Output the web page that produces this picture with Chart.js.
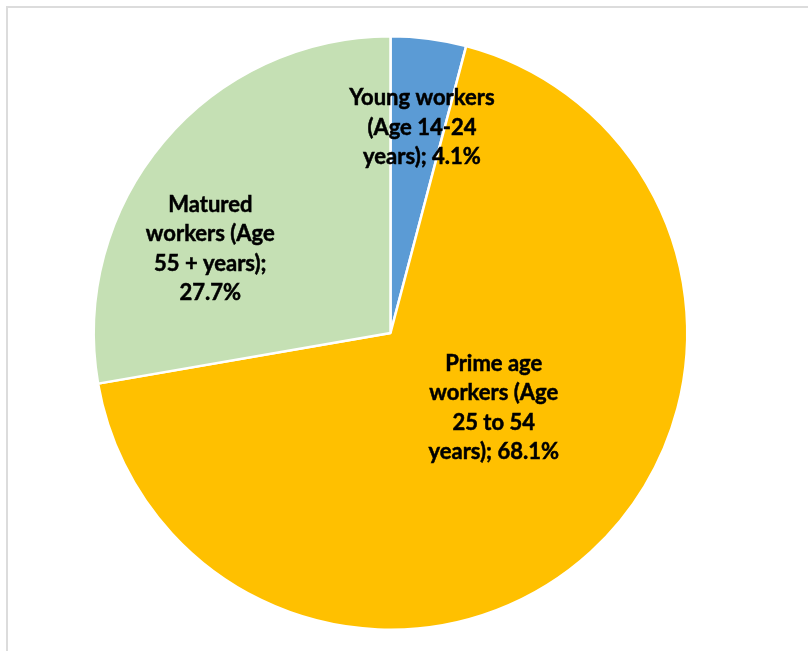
<!DOCTYPE html>
<html>
<head>
<meta charset="utf-8">
<script src="https://cdn.jsdelivr.net/npm/chart.js@4.4.1/dist/chart.umd.min.js"></script>
<style>
  html, body { margin: 0; padding: 0; background: #ffffff; }
  #wrap { width: 808px; height: 651px; }
</style>
</head>
<body>
<div id="wrap"><canvas id="c" width="808" height="651"></canvas></div>
<script>
// Workforce by age group (share of employed, %)
const categories = ['Young workers', 'Prime age workers', 'Matured workers'];
const shares = [4.1, 68.1, 27.7];
const labelLines = [
  ['Young workers', '(Age 14-24', 'years); 4.1%'],
  ['Prime age', 'workers (Age', '25 to 54', 'years); 68.1%'],
  ['Matured', 'workers (Age', '55 + years);', '27.7%']
];
const colors = ['#5B9BD5', '#FFC000', '#C5E0B4'];

// where each label sits inside its slice: angle (deg, 0 = right, clockwise) and fraction of radius
const labelPlacement = [
  { angle: -81.3, frac: 0.70 },
  { angle: 36.0, frac: 0.43 },
  { angle: -155.0, frac: 0.67 }
];

const frame = {
  id: 'frame',
  beforeDraw(chart) {
    const ctx = chart.ctx;
    ctx.save();
    ctx.strokeStyle = '#dcdcdc';
    ctx.lineWidth = 2;
    ctx.beginPath();
    ctx.moveTo(7, chart.height);
    ctx.lineTo(7, 7);
    ctx.lineTo(chart.width, 7);
    ctx.stroke();
    ctx.restore();
  }
};

const sliceLabels = {
  id: 'sliceLabels',
  afterDatasetsDraw(chart) {
    const ctx = chart.ctx;
    const meta = chart.getDatasetMeta(0);
    ctx.save();
    ctx.font = 'bold 22px Lato, "Open Sans", sans-serif';
    ctx.fillStyle = '#000000';
    ctx.strokeStyle = '#000000';
    ctx.lineWidth = 0.5;
    ctx.textAlign = 'center';
    ctx.textBaseline = 'middle';
    const lh = 29.5;
    meta.data.forEach((arc, i) => {
      const p = labelPlacement[i];
      const a = p.angle * Math.PI / 180;
      const cx = arc.x + Math.cos(a) * arc.outerRadius * p.frac;
      const cy = arc.y + Math.sin(a) * arc.outerRadius * p.frac;
      const lines = labelLines[i];
      const top = cy - (lines.length - 1) * lh / 2;
      lines.forEach((t, k) => {
        ctx.fillText(t, cx, top + k * lh);
        ctx.strokeText(t, cx, top + k * lh);
      });
    });
    ctx.restore();
  }
};

new Chart(document.getElementById('c'), {
  type: 'pie',
  data: {
    labels: categories,
    datasets: [{
      data: shares,
      backgroundColor: colors,
      borderColor: '#ffffff',
      borderWidth: 2.5
    }]
  },
  options: {
    responsive: false,
    animation: false,
    layout: { padding: { top: 35, bottom: 20, left: 92, right: 119 } },
    plugins: {
      legend: { display: false },
      tooltip: { enabled: false }
    }
  },
  plugins: [frame, sliceLabels]
});
</script>
</body>
</html>
